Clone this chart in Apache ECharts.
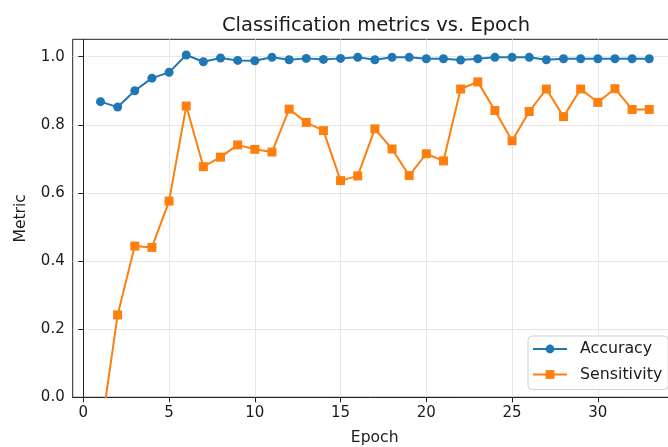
<!DOCTYPE html>
<html>
<head>
<meta charset="utf-8">
<script src="https://cdn.jsdelivr.net/npm/echarts@6/dist/echarts.min.js"></script>
<style>html,body{margin:0;padding:0;background:#fff}#c{width:668px;height:447px}</style>
</head>
<body>
<div id="c"></div>
<script>
const epochs = [1,2,3,4,5,6,7,8,9,10,11,12,13,14,15,16,17,18,19,20,21,22,23,24,25,26,27,28,29,30,31,32,33];
const accuracy = [0.868,0.852,0.900,0.937,0.954,1.005,0.985,0.996,0.989,0.988,0.998,0.991,0.995,0.992,0.995,0.998,0.991,0.998,0.998,0.994,0.994,0.990,0.994,0.998,0.998,0.998,0.991,0.994,0.994,0.994,0.994,0.994,0.994];
const sensitivity = [-0.11,0.242,0.444,0.440,0.576,0.855,0.677,0.705,0.741,0.728,0.720,0.846,0.807,0.783,0.636,0.650,0.788,0.729,0.651,0.715,0.694,0.905,0.926,0.842,0.753,0.839,0.905,0.824,0.905,0.866,0.906,0.845,0.845];
const xTicks = [0,5,10,15,20,25,30];
const yTicks = [0,0.2,0.4,0.6,0.8,1.0];

const FONT = 'DejaVu Sans';
const chart = echarts.init(document.getElementById('c'), null, {renderer:'canvas'});
chart.setOption({
  animation:false,
  backgroundColor:'#fff',
  title:{text:'Classification metrics vs. Epoch', left:371, top:11,
    textAlign:'center',
    textStyle:{fontFamily:FONT,fontSize:19.5,fontWeight:'normal',color:'#1a1a1a'}},
  grid:{left:72.7, top:39.3, width:604, height:358, outerBoundsMode:'none', containLabel:false,
    show:true, borderColor:'#222', borderWidth:1, backgroundColor:'transparent'},
  legend:{
    orient:'vertical', left:528, top:336,
    padding:[5,6,7,4], itemGap:9.5, itemWidth:34, itemHeight:11,
    borderColor:'#d0d0d0', borderWidth:1, borderRadius:4, backgroundColor:'rgba(255,255,255,0.85)',
    textStyle:{fontFamily:FONT,fontSize:15.8,color:'#1a1a1a',padding:[0,0,0,8]},
    data:['Accuracy','Sensitivity']
  },
  xAxis:{type:'value', min:-0.62, max:34.6,
    name:'Epoch', nameLocation:'middle', nameGap:33,
    nameTextStyle:{fontFamily:FONT,fontSize:15.6,color:'#1a1a1a'},
    axisLine:{show:true,onZero:false,lineStyle:{color:'#222',width:1}},
    axisTick:{show:true,inside:false,length:5,lineStyle:{color:'#222'},customValues:xTicks},
    axisLabel:{fontFamily:FONT,fontSize:15,color:'#1a1a1a',margin:8,customValues:xTicks,formatter:v=>String(v)},
    splitLine:{show:true,lineStyle:{color:'#e6e6e6',width:1}}
  },
  yAxis:{type:'value', min:0, max:1.051,
    name:'Metric', nameLocation:'middle', nameGap:44, nameRotate:90,
    nameTextStyle:{fontFamily:FONT,fontSize:15.6,color:'#1a1a1a'},
    axisLine:{show:true,lineStyle:{color:'#222',width:1}},
    axisTick:{show:true,inside:false,length:5,lineStyle:{color:'#222'},customValues:yTicks},
    axisLabel:{fontFamily:FONT,fontSize:15,color:'#1a1a1a',margin:8,customValues:yTicks,formatter:v=>v.toFixed(1)},
    splitLine:{show:true,lineStyle:{color:'#e6e6e6',width:1}}
  },
  series:[
    {name:'Accuracy', type:'line', data:epochs.map((e,i)=>[e,accuracy[i]]),
      symbol:'circle', symbolSize:9, showAllSymbol:true, clip:true,
      lineStyle:{color:'#1f77b4',width:2}, itemStyle:{color:'#1f77b4'}},
    {name:'Sensitivity', type:'line', data:epochs.map((e,i)=>[e,sensitivity[i]]),
      symbol:'rect', symbolSize:9, showAllSymbol:true, clip:true,
      lineStyle:{color:'#ff7f0e',width:2}, itemStyle:{color:'#ff7f0e'}}
  ]
});
</script>
</body>
</html>
